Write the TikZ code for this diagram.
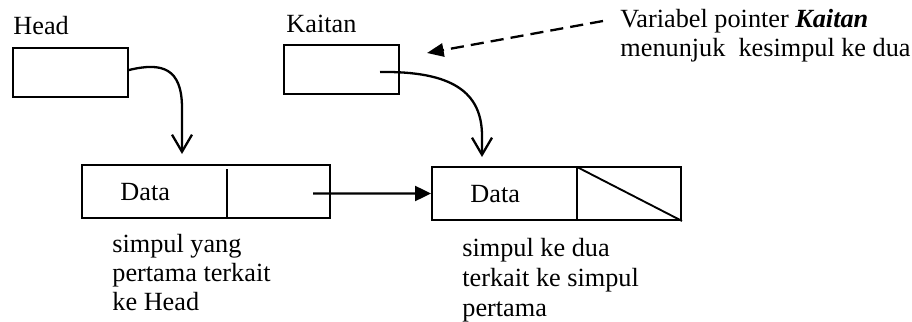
\documentclass[tikz,border=0pt]{standalone}
\usepackage{fontspec}
\setmainfont{Liberation Serif}
\usetikzlibrary{arrows.meta,fit}
\begin{document}
\begin{tikzpicture}[x=0.48pt,y=-0.48pt,
  box/.style={draw,line width=0.9pt,inner sep=0pt},
  divider/.style={line width=0.9pt},
  lbl/.style={anchor=base west,inner sep=0pt,font=\fontsize{12.6}{14.5}\selectfont},
  link/.style={line width=1.1pt,-{Straight Barb[length=8.2pt,width=9.6pt,line width=1.1pt]}},
  nextptr/.style={line width=1.1pt,-{Triangle[length=7.7pt,width=7.2pt]}},
  note/.style={line width=1.1pt,dash pattern=on 6.3pt off 3.4pt,-{Triangle[length=8pt,width=6.4pt]}}]
\useasboundingbox (0,0) rectangle (912,322);

% pointer variables
\node[lbl] (headlbl) at (13,35) {Head};
\node[box,fit={(13,48) (128,97)}] (head) {};
\node[lbl] (kaitanlbl) at (286,33) {Kaitan};
\node[box,fit={(284,45) (399,94)}] (kaitan) {};

% first node
\node[box,fit={(82,165) (330,218)}] (n1) {};
\draw[divider] (227,169) -- (227,219);
\node[lbl] (d1) at (120,200) {Data};

% second node (nil link)
\node[box,fit={(432,167) (681,220)}] (n2) {};
\draw[divider] (577,167) -- (577,221);
\draw[divider] (577,167) -- (n2.south east);
\node[lbl] (d2) at (470,202) {Data};

% connector anchors
\coordinate (hstart) at (129,70);
\coordinate (htip) at (182,154);
\coordinate (kstart) at (380,72);
\coordinate (ktip) at (482,157);
\coordinate (nstart) at (313,193.5);
\coordinate (cstart) at (603,21);
\coordinate (ctip) at (427,53);

\draw[link] (hstart) .. controls (162,62) and (182,68) .. (182,108) -- (htip);
\draw[link] (kstart) .. controls (452,71) and (482,92) .. (482,136) -- (ktip);
\draw[nextptr] (nstart) -- (n2.west);
\draw[note] (cstart) -- (ctip);

% captions
\node[lbl] (c1) at (620,28) {Variabel pointer \textbf{\textit{Kaitan}}};
\node[lbl] (c2) at (620,57) {menunjuk\ \ kesimpul ke dua};

\node[lbl] (s1a) at (112,252) {simpul yang};
\node[lbl] (s1b) at (112,281) {pertama terkait};
\node[lbl] (s1c) at (112,310) {ke Head};

\node[lbl] (s2a) at (462,256) {simpul ke dua};
\node[lbl] (s2b) at (462,286) {terkait ke simpul};
\node[lbl] (s2c) at (462,316) {pertama};
\end{tikzpicture}
\end{document}
